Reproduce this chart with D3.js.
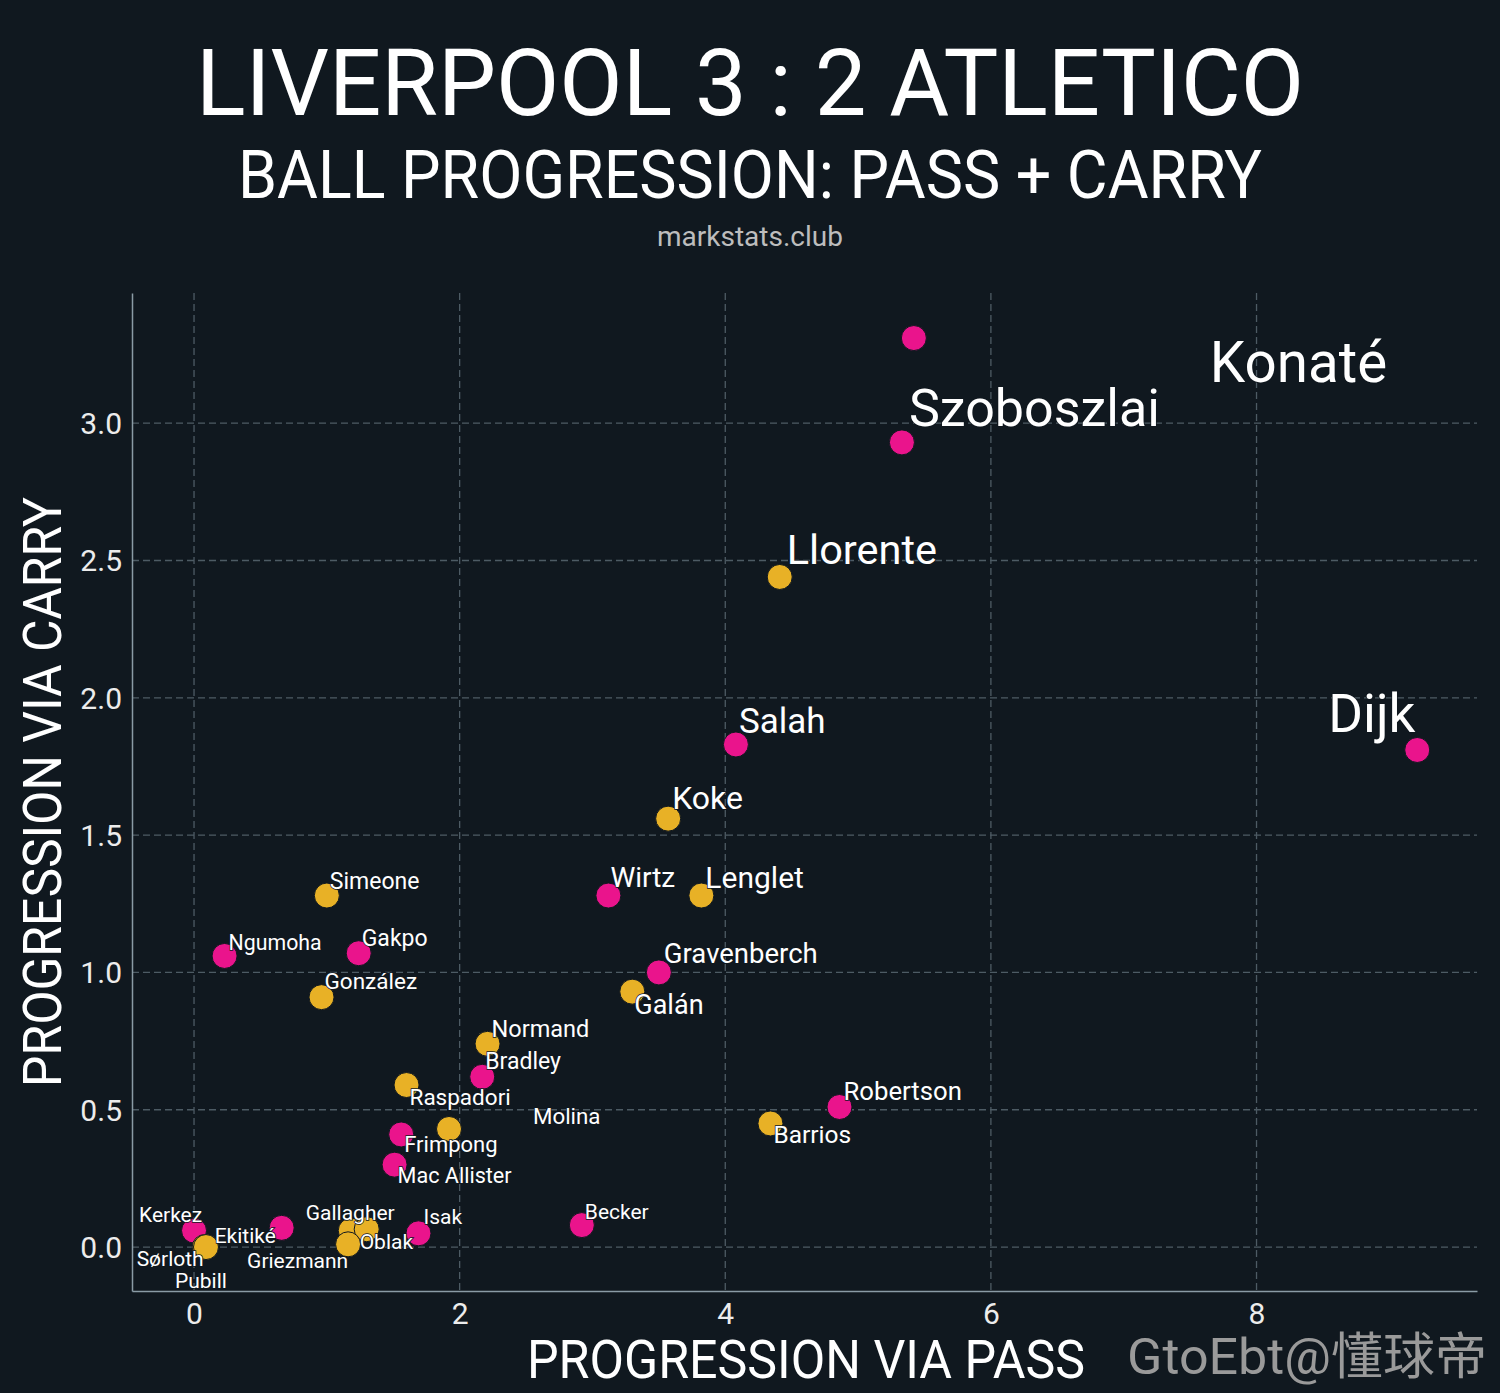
<!DOCTYPE html>
<html><head><meta charset="utf-8">
<script src="https://cdn.jsdelivr.net/npm/d3@7"></script>
<style>html,body{margin:0;padding:0;background:#10181f;}svg{display:block;}</style>
</head><body>
<script>
// ---- data ----
const players = ["Konaté","Szoboszlai","Dijk","Llorente","Salah","Koke","Wirtz","Lenglet","Gravenberch","Galán","Robertson","Barrios","Simeone","Ngumoha","Gakpo","González","Normand","Bradley","Raspadori","Molina","Frimpong","Mac Allister","Kerkez","Sørloth","Pubill","Ekitiké","Gallagher","Oblak","Griezmann","Isak","Becker"];
const teams = ["LIV","LIV","LIV","ATM","LIV","ATM","LIV","ATM","LIV","ATM","LIV","ATM","ATM","LIV","LIV","ATM","ATM","LIV","ATM","ATM","LIV","LIV","LIV","ATM","ATM","LIV","ATM","ATM","ATM","LIV","LIV"];
const viaPass  = [5.42,5.33,9.21,4.41,4.08,3.57,3.12,3.82,3.50,3.30,4.86,4.34,1.00,0.23,1.24,0.96,2.21,2.17,1.60,1.92,1.56,1.51,0.00,0.08,0.09,0.66,1.18,1.30,1.16,1.69,2.92];
const viaCarry = [3.31,2.93,1.81,2.44,1.83,1.56,1.28,1.28,1.00,0.93,0.51,0.45,1.28,1.06,1.07,0.91,0.74,0.62,0.59,0.43,0.41,0.30,0.06,0.00,0.00,0.07,0.06,0.065,0.01,0.05,0.08];
const xTicks = [0,2,4,6,8];
const yTicks = [0,0.5,1.0,1.5,2.0,2.5,3.0];

// ---- label layout (pixel offsets from point, font size) ----
const labelLayout = {
 "Konaté":[296,44,56.5],"Szoboszlai":[7,-16,52],"Dijk":[-89,-18,53],"Llorente":[7,-13,41.5],
 "Salah":[3,-11,35],"Koke":[4,-10,32],"Wirtz":[2,-9,28],"Lenglet":[4,-8,30],
 "Gravenberch":[5,-9,27.5],"Galán":[2,22,27],"Robertson":[4,-7,25.7],"Barrios":[3,20,24.5],
 "Simeone":[3,-7,23],"Ngumoha":[4,-6,21.3],"Gakpo":[3,-7,23],"González":[3,-8,22.5],
 "Normand":[4,-7,23.5],"Bradley":[3,-8,23],"Raspadori":[3,20,22.5],"Molina":[84,-5,22.3],
 "Frimpong":[3,18,22],"Mac Allister":[3,18,21.6],"Kerkez":[-55,-9,21],"Sørloth":[-68,19,21],
 "Pubill":[-31,41,21],"Ekitiké":[-67,15,21],"Gallagher":[-45,-11,21],"Oblak":[-7,20,21],
 "Griezmann":[-101,24,21],"Isak":[5,-9,21],"Becker":[3,-6,21]
};
const teamColor = {LIV:"#ea148c", ATM:"#e8b126"};

const W=1500,H=1393;
const svg=d3.select("body").append("svg").attr("width",W).attr("height",H)
  .style("font-family","Roboto, 'Noto Sans', sans-serif");
svg.append("rect").attr("width",W).attr("height",H).attr("fill","#10181f");

const x=d3.scaleLinear().domain([-0.467,9.66]).range([132,1477]);
const y=d3.scaleLinear().domain([-0.16,3.474]).range([1291,293]);

// grid
const g=svg.append("g");
g.selectAll(".vg").data(xTicks).join("line")
 .attr("x1",d=>x(d)).attr("x2",d=>x(d)).attr("y1",y.range()[1]).attr("y2",y.range()[0])
 .attr("stroke","#4d5b64").attr("stroke-width",1.3).attr("stroke-dasharray","7,4");
g.selectAll(".hg").data(yTicks).join("line")
 .attr("y1",d=>y(d)).attr("y2",d=>y(d)).attr("x1",x.range()[0]).attr("x2",x.range()[1])
 .attr("stroke","#4d5b64").attr("stroke-width",1.3).attr("stroke-dasharray","7,4");

// axes
const xAxis=svg.append("g").attr("transform",`translate(0,${y.range()[0]})`)
 .call(d3.axisBottom(x).tickValues(xTicks).tickSize(0).tickPadding(4).tickFormat(d3.format("d")));
const yAxis=svg.append("g").attr("transform",`translate(${x.range()[0]},0)`)
 .call(d3.axisLeft(y).tickValues(yTicks).tickSize(0).tickPadding(10).tickFormat(d3.format(".1f")));
[xAxis,yAxis].forEach(a=>{
  a.select(".domain").attr("stroke","#8a9ba5").attr("stroke-width",1.5);
  a.selectAll("text").attr("fill","#ececec").style("font-size","30px").style("font-family","Roboto, sans-serif");
});
xAxis.selectAll("text").attr("dy","0.95em");
yAxis.selectAll("text").attr("dy","0.35em");

// points
const data=players.map((p,i)=>({name:p,team:teams[i],x:viaPass[i],y:viaCarry[i]}));
svg.append("g").selectAll("circle").data(data).join("circle")
 .attr("cx",d=>x(d.x)).attr("cy",d=>y(d.y)).attr("r",12.5)
 .attr("fill",d=>teamColor[d.team]).attr("stroke","#10181f").attr("stroke-width",1);

// labels
svg.append("g").selectAll("text").data(data).join("text")
 .attr("x",d=>x(d.x)+labelLayout[d.name][0]).attr("y",d=>y(d.y)+labelLayout[d.name][1])
 .attr("fill","#ffffff").style("font-size",d=>labelLayout[d.name][2]+"px")
 .style("paint-order","stroke").attr("stroke","#10181f").attr("stroke-width",1.5)
 .text(d=>d.name);

// titles
svg.append("text").attr("x",750).attr("y",115).attr("text-anchor","middle")
 .attr("fill","#ffffff").style("font-size","92px").text("LIVERPOOL 3 : 2 ATLETICO");
svg.append("text").attr("x",750).attr("y",198).attr("text-anchor","middle")
 .attr("fill","#ffffff").style("font-size","66px")
 .attr("textLength",1024).attr("lengthAdjust","spacingAndGlyphs").text("BALL PROGRESSION: PASS + CARRY");
svg.append("text").attr("x",750).attr("y",246).attr("text-anchor","middle")
 .attr("fill","#bdbdbd").style("font-size","28px").text("markstats.club");

// axis titles
svg.append("text").attr("x",806).attr("y",1378).attr("text-anchor","middle")
 .attr("fill","#ffffff").style("font-size","54px")
 .attr("textLength",558).attr("lengthAdjust","spacingAndGlyphs").text("PROGRESSION VIA PASS");
svg.append("text").attr("transform","translate(61,792) rotate(-90)").attr("text-anchor","middle")
 .attr("fill","#ffffff").style("font-size","54px")
 .attr("textLength",590).attr("lengthAdjust","spacingAndGlyphs").text("PROGRESSION VIA CARRY");

// watermark
svg.append("text").attr("x",1127).attr("y",1374)
 .attr("fill","#9a9a9a").style("font-size","50px")
 .attr("textLength",360).attr("lengthAdjust","spacingAndGlyphs")
 .style("font-family","Roboto, 'Noto Sans CJK SC', sans-serif").text("GtoEbt@懂球帝");
</script>
</body></html>
